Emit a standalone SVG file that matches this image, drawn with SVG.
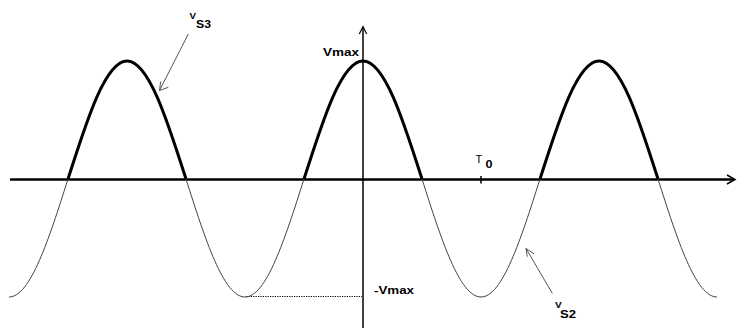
<svg xmlns="http://www.w3.org/2000/svg" width="752" height="329" viewBox="0 0 752 329">
<style>
.lbl{font-family:"Liberation Sans",Arial,sans-serif;font-weight:bold;fill:#000}
.reg{font-family:"Liberation Sans",Arial,sans-serif;fill:#000}
.thin{fill:none;stroke:#444;stroke-width:1}
.thick{fill:none;stroke:#000;stroke-width:3;stroke-linecap:butt}
.ax{fill:none;stroke:#000}
.ptr{fill:none;stroke:#555;stroke-width:1}
</style>
<rect width="752" height="329" fill="#fff"/>
<g id="axes">
<line class="ax" x1="10" y1="179.5" x2="734" y2="179.5" stroke-width="2.5"/>
<polyline class="ax" points="727,175 735,179.5 727,184" stroke-width="1.5"/>
<line class="ax" x1="363" y1="27" x2="363" y2="328" stroke-width="1.5"/>
<polyline class="ax" points="359.3,34 363,26.5 366.7,34" stroke-width="1.2"/>
<line class="ax" x1="481" y1="176" x2="481" y2="183.5" stroke-width="1.5"/>
<line x1="246" y1="296.5" x2="362" y2="296.5" stroke="#000" stroke-width="1.2" stroke-dasharray="1.2 1.2"/>
</g>
<g id="curve">
<path class="thin" d="M9,297 C30.35,297 48.76,239.45 68,179 C87.24,118.55 105.65,61 127,61 C148.35,61 166.76,118.55 186,179 C205.24,239.45 223.65,297 245,297 C266.35,297 284.76,239.45 304,179 C323.24,118.55 341.65,61 363,61 C384.35,61 402.76,118.55 422,179 C441.24,239.45 459.65,297 481,297 C502.35,297 520.76,239.45 540,179 C559.24,118.55 577.65,61 599,61 C620.35,61 638.76,118.55 658,179 C677.24,239.45 695.65,297 717,297"/>
<path class="thick" d="M68,179 C87.24,118.55 105.65,61 127,61 C148.35,61 166.76,118.55 186,179"/>
<path class="thick" d="M304,179 C323.24,118.55 341.65,61 363,61 C384.35,61 402.76,118.55 422,179"/>
<path class="thick" d="M540,179 C559.24,118.55 577.65,61 599,61 C620.35,61 638.76,118.55 658,179"/>
</g>
<g id="connectors">
<line class="ptr" x1="188.3" y1="34" x2="159.5" y2="90.5"/>
<polyline class="ptr" points="160.7,81.5 159.5,90.5 168.3,87.3"/>
<line class="ptr" x1="552.3" y1="293.3" x2="526" y2="248.5"/>
<polyline class="ptr" points="527.3,256.7 526,248.5 534.3,254"/>
</g>
<g id="label-vs3">
<text class="lbl" x="189.5" y="19" font-size="9" textLength="6.5" lengthAdjust="spacingAndGlyphs">V</text>
<text class="lbl" x="196" y="28.3" font-size="10.5" textLength="15" lengthAdjust="spacingAndGlyphs">S3</text>
</g>
<g id="label-vmax">
<text class="lbl" x="323" y="56" font-size="10" textLength="36" lengthAdjust="spacingAndGlyphs">Vmax</text>
</g>
<g id="label-t0">
<text class="reg" x="475.5" y="163" font-size="11">T</text>
<text class="lbl" x="485.5" y="168.3" font-size="10" textLength="7" lengthAdjust="spacingAndGlyphs">0</text>
</g>
<g id="label-negvmax">
<text class="lbl" x="374" y="294" font-size="10" textLength="40" lengthAdjust="spacingAndGlyphs">-Vmax</text>
</g>
<g id="label-vs2">
<text class="lbl" x="555" y="308.3" font-size="9.5" textLength="6.7" lengthAdjust="spacingAndGlyphs">V</text>
<text class="lbl" x="560" y="318.3" font-size="11" textLength="16" lengthAdjust="spacingAndGlyphs">S2</text>
</g>
</svg>
